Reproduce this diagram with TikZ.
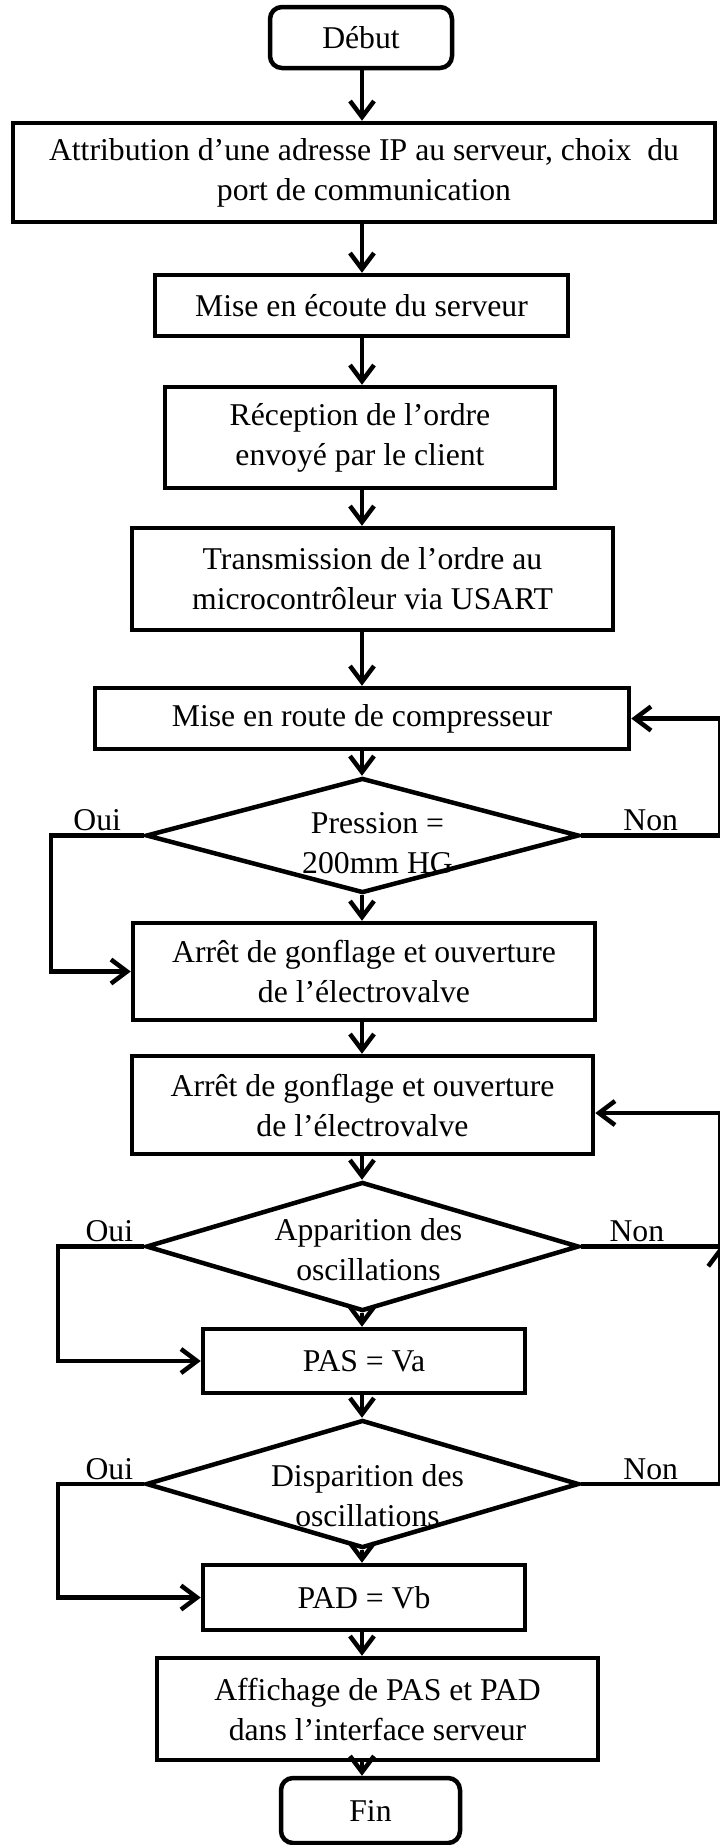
\documentclass[tikz,border=0pt]{standalone}
\usepackage{fontspec}
\setmainfont{Liberation Serif}
\usetikzlibrary{shapes.geometric,arrows.meta,positioning}

\begin{document}
\begin{tikzpicture}[
  x=1pt, y=-1pt,
  every node/.style={font=\fontsize{31.7}{40}\selectfont},
  term/.style={rectangle, draw, rounded corners=12pt, line width=4.5pt, inner sep=0pt},
  proc/.style={rectangle, draw, line width=4.5pt, inner sep=0pt, align=center},
  decision/.style={diamond, draw, line width=4.5pt, inner sep=0pt},
  dtext/.style={align=center, inner sep=0pt},
  arr/.style={-{Straight Barb[length=16pt, width=24pt]}, line width=4.5pt},
  lbl/.style={above, inner sep=2pt}
]
\useasboundingbox (0,0) rectangle (720,1845);
\coordinate (axe) at (362,0);

\node[term, minimum width=182pt, minimum height=61pt] (debut) at (361,37.5) {Début};
\node[proc, minimum width=702pt, minimum height=99pt] (adresse) at (364,172.5)
  {Attribution d’une adresse IP au serveur, choix\ \ du\\port de communication};
\node[proc, minimum width=413pt, minimum height=61pt] (ecoute) at (361.5,305.5) {Mise en écoute du serveur};
\node[proc, minimum width=390pt, minimum height=101pt] (reception) at (360,437.5)
  {Réception de l’ordre\\envoyé par le client};
\node[proc, minimum width=481pt, minimum height=102pt] (usart) at (372.5,579)
  {Transmission de l’ordre au\\microcontrôleur via USART};
\node[proc, minimum width=534pt, minimum height=61pt] (compress) at (362,718.5) {Mise en route de compresseur};
\node[decision, minimum width=433pt, minimum height=115pt] (pression) at (362.5,835.5) {};
\node[dtext] (pressiontxt) at ([xshift=15pt,yshift=-8pt]pression.center) {Pression =\\200mm HG};
\node[proc, minimum width=462pt, minimum height=97pt] (arret) at (364,971.5)
  {Arrêt de gonflage et ouverture\\de l’électrovalve};
\node[proc, minimum width=461pt, minimum height=98pt] (valve) at (362.5,1105)
  {Arrêt de gonflage et ouverture\\de l’électrovalve};
\node[decision, minimum width=433pt, minimum height=129pt] (appar) at (362.5,1246.5) {};
\node[dtext] (appartxt) at ([xshift=6pt,yshift=-3pt]appar.center) {Apparition des\\oscillations};
\node[proc, minimum width=322pt, minimum height=64pt] (pas) at (364,1361) {PAS = Va};
\node[decision, minimum width=433pt, minimum height=128pt] (dispar) at (362.5,1484) {};
\node[dtext] (dispartxt) at ([xshift=5pt,yshift=-12pt]dispar.center) {Disparition des\\oscillations};
\node[proc, minimum width=322pt, minimum height=65pt] (pad) at (364,1597.5) {PAD = Vb};
\node[proc, minimum width=441pt, minimum height=102pt] (affich) at (377.5,1709)
  {Affichage de PAS et PAD\\dans l’interface serveur};
\node[term, minimum width=179pt, minimum height=65pt] (fin) at (370.5,1810.5) {Fin};

% main flow
\draw[arr] (debut.south -| axe) -- (adresse.north -| axe);
\draw[arr] (adresse.south -| axe) -- (ecoute.north -| axe);
\draw[arr] (ecoute.south -| axe) -- (reception.north -| axe);
\draw[arr] (reception.south -| axe) -- (usart.north -| axe);
\draw[arr] (usart.south -| axe) -- (compress.north -| axe);
\draw[arr] (compress.south -| axe) -- (pression.north -| axe);
\draw[arr] (pression.south -| axe) -- (arret.north -| axe);
\draw[arr] (arret.south -| axe) -- (valve.north -| axe);
\draw[arr] (valve.south -| axe) -- (appar.north -| axe);
\draw[arr] (appar.south -| axe) -- (pas.north -| axe);
\draw[arr] (pas.south -| axe) -- (dispar.north -| axe);
\draw[arr] (dispar.south -| axe) -- (pad.north -| axe);
\draw[arr] (pad.south -| axe) -- (affich.north -| axe);
\draw[arr] (affich.south -| axe) -- (fin.north -| axe);

% branches
\draw[arr] (pression.west) -- node[lbl]{Oui} ++(-93,0) |- (arret.west);
\draw[arr] (pression.east) -- node[lbl]{Non} ++(139,0) |- (compress.east);
\draw[arr] (appar.west) -- node[lbl, pos=0.4]{Oui} ++(-86,0) |- (pas.west);
\draw[arr] (appar.east) -- node[lbl, pos=0.4]{Non} ++(139,0) |- ([yshift=-8pt]valve.east);
\draw[arr] (dispar.west) -- node[lbl, pos=0.4]{Oui} ++(-86,0) |- (pad.west);
\draw[arr] (dispar.east) -- node[lbl]{Non} ++(139,0) -- ([xshift=139pt]appar.east);
\end{tikzpicture}
\end{document}
